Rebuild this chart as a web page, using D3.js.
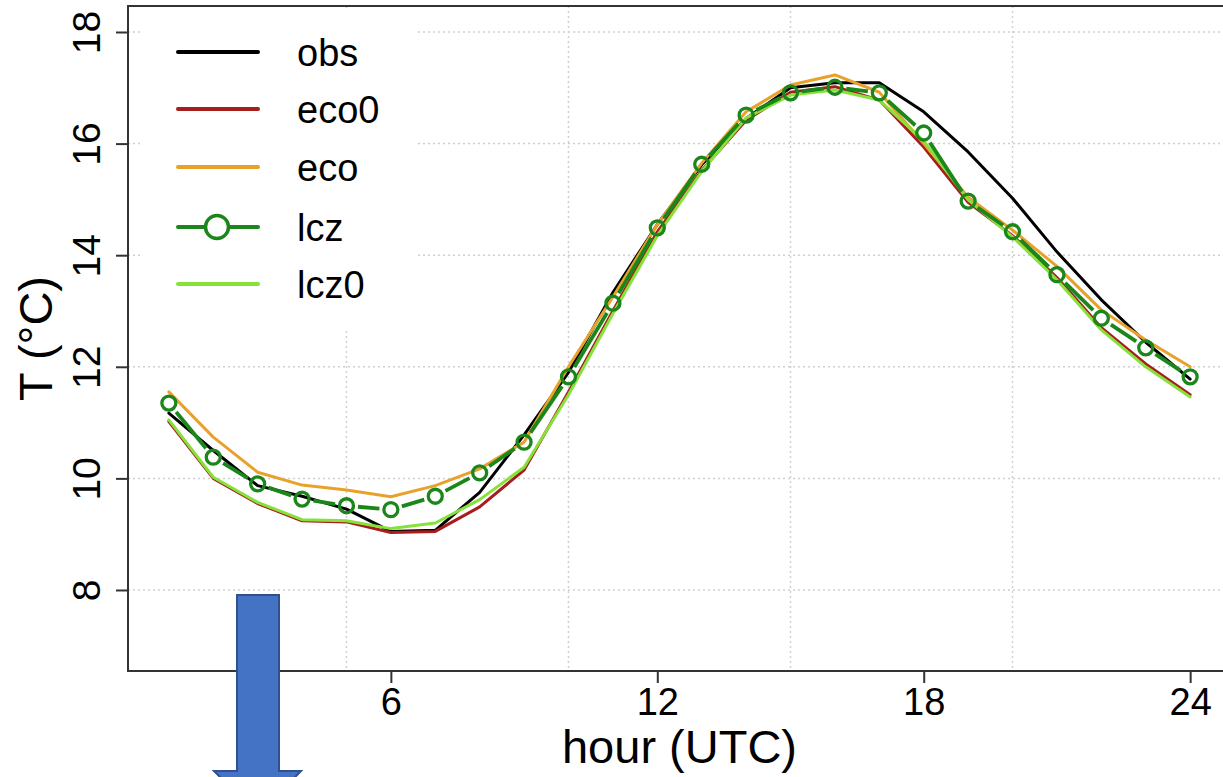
<!DOCTYPE html>
<html><head><meta charset="utf-8">
<script src="https://cdn.jsdelivr.net/npm/d3@7"></script>
<style>
html,body{margin:0;padding:0;background:#fff;overflow:hidden}
svg{display:block;font-family:"Liberation Sans",Arial,sans-serif}
</style></head>
<body>
<svg id="c" width="1223" height="777"></svg>
<script>
const hours = [1,2,3,4,5,6,7,8,9,10,11,12,13,14,15,16,17,18,19,20,21,22,23,24];
const obs  = [11.17,10.50,9.87,9.68,9.45,9.05,9.07,9.75,10.78,11.90,13.33,14.55,15.62,16.45,17.00,17.09,17.09,16.57,15.85,15.02,14.06,13.20,12.44,11.78];
const eco0 = [11.02,10.00,9.55,9.24,9.22,9.03,9.05,9.49,10.15,11.55,13.00,14.42,15.52,16.42,16.92,17.02,16.78,15.94,14.95,14.35,13.60,12.70,12.05,11.50];
const eco  = [11.55,10.74,10.11,9.88,9.79,9.67,9.87,10.17,10.65,12.00,13.25,14.55,15.65,16.57,17.05,17.23,16.92,16.00,15.04,14.45,13.80,13.02,12.48,12.00];
const lcz  = [11.35,10.38,9.90,9.63,9.51,9.44,9.68,10.10,10.65,11.82,13.14,14.49,15.63,16.51,16.91,17.01,16.91,16.19,14.97,14.42,13.65,12.87,12.34,11.82];
const lcz0 = [11.05,10.02,9.57,9.26,9.24,9.10,9.20,9.62,10.20,11.50,12.95,14.35,15.50,16.46,16.87,16.96,16.78,16.05,14.99,14.33,13.56,12.66,12.00,11.46];
const seriesNames = ["obs","eco0","eco","lcz","lcz0"];
const seriesColors = ["#000000","#a51d1d","#e8a22c","#1b871b","#86e23a"];
const xTicks = [6,12,18,24];
const xGrid = [5,10,15,20];
const yTicks = [8,10,12,14,16,18];
const xTitle = "hour (UTC)";
const yTitle = "T (°C)";

const svg = d3.select("#c");
const L = 128, T = 6, R = 1231, B = 671;
const x = d3.scaleLinear().domain([0.08, 24.92]).range([L, R]);
const y = d3.scaleLinear().domain([6.548, 18.466]).range([B, T]);

// grid
const g = svg.append("g");
g.selectAll("line.gx").data(xGrid).join("line")
  .attr("x1", d => x(d)).attr("x2", d => x(d)).attr("y1", T).attr("y2", B)
  .attr("stroke", "#cfcfcf").attr("stroke-width", 1.5).attr("stroke-dasharray", "2,3");
g.selectAll("line.gy").data(yTicks).join("line")
  .attr("x1", L).attr("x2", R).attr("y1", d => y(d)).attr("y2", d => y(d))
  .attr("stroke", "#cfcfcf").attr("stroke-width", 1.5).attr("stroke-dasharray", "2,3");

// series
const dataMap = {obs, eco0, eco, lcz, lcz0};
const line = d3.line().x(d => x(d[0])).y(d => y(d[1]));
const order = ["obs","eco0","eco","lcz0"];
order.forEach(n => {
  const i = seriesNames.indexOf(n);
  svg.append("path").datum(hours.map((h, k) => [h, dataMap[n][k]]))
    .attr("d", line).attr("fill", "none")
    .attr("stroke", seriesColors[i]).attr("stroke-width", 3)
    .attr("stroke-linejoin", "round").attr("stroke-linecap", "round");
});
// lcz, type "b": segments with gaps around points
const lczCol = seriesColors[3];
const gap = 11.5;
const segs = [];
for (let k = 0; k < hours.length - 1; k++) {
  const x1 = x(hours[k]), y1 = y(lcz[k]), x2 = x(hours[k+1]), y2 = y(lcz[k+1]);
  const dx = x2 - x1, dy = y2 - y1, len = Math.hypot(dx, dy);
  if (len > 2 * gap) segs.push([x1 + dx * gap / len, y1 + dy * gap / len, x2 - dx * gap / len, y2 - dy * gap / len]);
}
svg.selectAll("line.lczseg").data(segs).join("line")
  .attr("x1", d => d[0]).attr("y1", d => d[1]).attr("x2", d => d[2]).attr("y2", d => d[3])
  .attr("stroke", lczCol).attr("stroke-width", 3.8).attr("stroke-linecap", "butt");
svg.selectAll("circle.lcz").data(hours).join("circle")
  .attr("cx", d => x(d)).attr("cy", (d, k) => y(lcz[k])).attr("r", 7)
  .attr("fill", "none").attr("stroke", lczCol).attr("stroke-width", 3.3);

// box
svg.append("rect").attr("x", L).attr("y", T).attr("width", R - L).attr("height", B - T)
  .attr("fill", "none").attr("stroke", "#333").attr("stroke-width", 2);

// axes
const xAxis = svg.append("g").attr("transform", `translate(0,${B})`)
  .call(d3.axisBottom(x).tickValues(xTicks).tickSize(12).tickPadding(5).tickFormat(d3.format("d")));
xAxis.select(".domain").remove();
xAxis.selectAll(".tick line").attr("stroke", "#333").attr("stroke-width", 2);
xAxis.selectAll(".tick text").attr("font-size", 38).attr("fill", "#000")
  .attr("font-family", "Liberation Sans, Arial, sans-serif");

const yAxis = svg.append("g").attr("transform", `translate(${L},0)`)
  .call(d3.axisLeft(y).tickValues(yTicks).tickSize(12).tickFormat(d3.format("d")));
yAxis.select(".domain").remove();
yAxis.selectAll(".tick line").attr("stroke", "#333").attr("stroke-width", 2);
yAxis.selectAll(".tick text").attr("font-size", 39).attr("fill", "#000")
  .attr("font-family", "Liberation Sans, Arial, sans-serif")
  .attr("x", null).attr("dy", null)
  .attr("text-anchor", "middle")
  .attr("transform", "translate(-28,0) rotate(-90)");

// titles
svg.append("text").attr("x", (L + R) / 2).attr("y", 763).attr("text-anchor", "middle")
  .attr("font-size", 47).attr("fill", "#000").text(xTitle);
svg.append("text").attr("transform", `translate(52,${(T + B) / 2}) rotate(-90)`)
  .attr("text-anchor", "middle").attr("font-size", 47).attr("fill", "#000").text(yTitle);

// legend
const lg = svg.append("g");
lg.append("rect").attr("x", 143).attr("y", 10).attr("width", 274).attr("height", 320).attr("fill", "#fff");
const rowY = [52, 109, 167, 227, 284];
seriesNames.forEach((n, i) => {
  lg.append("line").attr("x1", 178).attr("x2", 258).attr("y1", rowY[i]).attr("y2", rowY[i])
    .attr("stroke", seriesColors[i]).attr("stroke-width", 4).attr("stroke-linecap", "round");
  if (n === "lcz") {
    lg.append("circle").attr("cx", 217).attr("cy", rowY[i]).attr("r", 11.5)
      .attr("fill", "#fff").attr("stroke", seriesColors[i]).attr("stroke-width", 3.5);
  }
  lg.append("text").attr("x", 297).attr("y", rowY[i] + 14).attr("font-size", 38)
    .attr("fill", "#000").text(n);
});

// blue arrow annotation
const arrow = [[237,595],[279,595],[279,771],[301,771],[258,815],[214,771],[237,771]];
svg.append("path").attr("d", d3.line()(arrow) + "Z")
  .attr("fill", "#4472c4").attr("stroke", "#2f528f").attr("stroke-width", 2);
</script>
</body></html>
